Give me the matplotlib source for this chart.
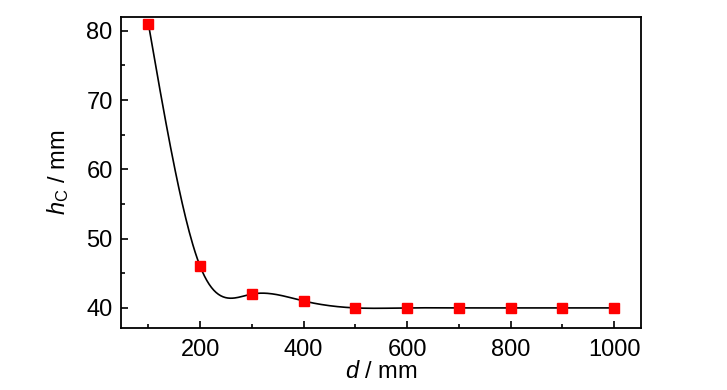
import matplotlib
matplotlib.use('Agg')
import matplotlib.pyplot as plt
from matplotlib.ticker import MultipleLocator
from matplotlib import font_manager
import numpy as np

d = [100, 200, 300, 400, 500, 600, 700, 800, 900, 1000]
hc = [81, 46, 42, 41, 40, 40, 40, 40, 40, 40]

names = {f.name for f in font_manager.fontManager.ttflist}
fam = 'Liberation Sans Narrow' if 'Liberation Sans Narrow' in names else 'Liberation Sans'

plt.rcParams['font.family'] = [fam, 'DejaVu Sans']
plt.rcParams['mathtext.fontset'] = 'custom'
plt.rcParams['mathtext.rm'] = fam
plt.rcParams['mathtext.sf'] = fam
plt.rcParams['mathtext.it'] = fam + ':italic'


def natural_spline(x, y, n=400):
    # plain natural cubic spline, like the Origin spline connector
    x = np.asarray(x, float); y = np.asarray(y, float)
    k = len(x); h = np.diff(x)
    A = np.zeros((k, k)); b = np.zeros(k)
    A[0, 0] = A[-1, -1] = 1
    for i in range(1, k - 1):
        A[i, i - 1] = h[i - 1]; A[i, i] = 2 * (h[i - 1] + h[i]); A[i, i + 1] = h[i]
        b[i] = 3 * ((y[i + 1] - y[i]) / h[i] - (y[i] - y[i - 1]) / h[i - 1])
    c = np.linalg.solve(A, b)
    xs = np.linspace(x[0], x[-1], n)
    idx = np.clip(np.searchsorted(x, xs) - 1, 0, k - 2)
    t = xs - x[idx]
    bb = (y[idx + 1] - y[idx]) / h[idx] - h[idx] * (2 * c[idx] + c[idx + 1]) / 3
    dd = (c[idx + 1] - c[idx]) / (3 * h[idx])
    return xs, y[idx] + bb * t + c[idx] * t**2 + dd * t**3


fig = plt.figure(figsize=(7.27, 3.9), dpi=100)
ax = fig.add_axes([121/727, 1 - 328/390, 520/727, 311/390])

xs, ys = natural_spline(d, hc)
ax.plot(xs, ys, color='black', lw=1.2, zorder=2)
ax.plot(d, hc, 's', color='red', ms=7, zorder=3)

ax.set_xlim(47, 1052)
ax.set_ylim(37.1, 82.0)
ax.xaxis.set_major_locator(MultipleLocator(200))
ax.xaxis.set_minor_locator(MultipleLocator(100))
ax.yaxis.set_major_locator(MultipleLocator(10))
ax.yaxis.set_minor_locator(MultipleLocator(5))
ax.tick_params(which='both', direction='in', top=False, right=False, labelsize=17, width=1.2)
ax.tick_params(which='major', length=5)
ax.tick_params(which='minor', length=3)
ax.tick_params(axis='x', pad=8)
ax.tick_params(axis='y', pad=6)
for s in ax.spines.values():
    s.set_linewidth(1.3)

ax.set_xlabel(r'$\mathit{d}$ / mm', fontsize=17, labelpad=0)
ax.set_ylabel(r'$\mathit{h}_{\mathsf{C}}$ / mm', fontsize=17, labelpad=11)

plt.savefig('out.png', dpi=100)
